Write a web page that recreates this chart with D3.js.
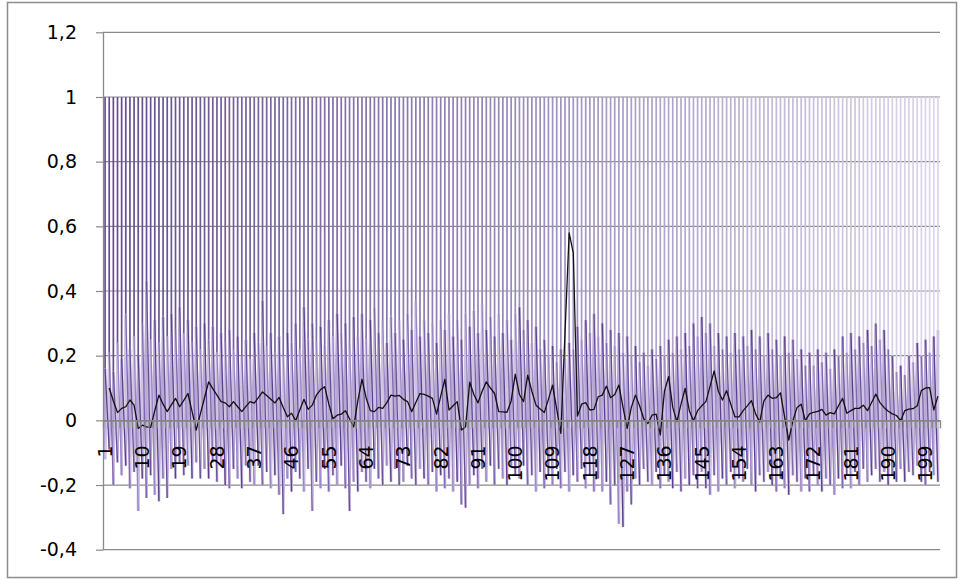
<!DOCTYPE html>
<html>
<head>
<meta charset="utf-8">
<script src="https://cdn.jsdelivr.net/npm/d3@7"></script>
<style>
  body { margin: 0; background: #fff; }
  svg { display: block; }
  text { font-family: "DejaVu Sans", sans-serif; fill: #000; }
</style>
</head>
<body>
<svg width="960" height="580"></svg>
<script>
// categories 1..202 (one correlation series per category)
const categories = d3.range(1, 203);
const xTickLabels = [1, 10, 19, 28, 37, 46, 55, 64, 73, 82, 91, 100, 109, 118, 127, 136, 145, 154, 163, 172, 181, 190, 199];
const yTicks = [-0.4, -0.2, 0, 0.2, 0.4, 0.6, 0.8, 1, 1.2];
const yTickLabels = ["-0,4", "-0,2", "0", "0,2", "0,4", "0,6", "0,8", "1", "1,2"];

// black series
const avgLine = [
  null, 0.10, 0.06, 0.024, 0.037, 0.042, 0.063, 0.047, -0.025, -0.015,
  -0.02, -0.022, 0.03, 0.078, 0.05, 0.027, 0.048, 0.068, 0.042, 0.062,
  0.083, 0.027, -0.03, 0.02, 0.07, 0.119, 0.098, 0.078, 0.058, 0.054,
  0.042, 0.058, 0.042, 0.027, 0.043, 0.058, 0.053, 0.07, 0.088, 0.077,
  0.065, 0.054, 0.071, 0.04, 0.011, 0.022, -0.001, 0.032, 0.065, 0.034,
  0.047, 0.078, 0.095, 0.104, 0.05, 0.005, 0.016, 0.019, 0.03, 0.005,
  -0.02, 0.06, 0.127, 0.07, 0.03, 0.027, 0.04, 0.037, 0.055, 0.078,
  0.075, 0.077, 0.065, 0.058, 0.027, 0.055, 0.083, 0.08, 0.075, 0.068,
  0.019, 0.075, 0.127, 0.032, 0.045, 0.058, -0.03, -0.02, 0.118, 0.08,
  0.054, 0.09, 0.119, 0.10, 0.083, 0.027, 0.026, 0.025, 0.06, 0.143,
  0.08, 0.058, 0.14, 0.09, 0.047, 0.035, 0.024, 0.065, 0.109, 0.035,
  -0.04, 0.27, 0.58, 0.517, 0.013, 0.05, 0.055, 0.032, 0.034, 0.073,
  0.078, 0.106, 0.07, 0.08, 0.109, 0.04, -0.025, 0.04, 0.078, 0.045,
  0.005, -0.01, 0.016, 0.019, -0.045, 0.09, 0.135, 0.04, -0.004, 0.05,
  0.099, 0.03, -0.001, 0.03, 0.045, 0.058, 0.105, 0.153, 0.09, 0.063,
  0.092, 0.05, 0.011, 0.011, 0.03, 0.045, 0.061, 0.02, -0.005, 0.06,
  0.078, 0.068, 0.07, 0.085, 0.01, -0.061, -0.001, 0.04, 0.05, -0.001,
  0.02, 0.025, 0.028, 0.034, 0.016, 0.024, 0.02, 0.045, 0.068, 0.022,
  0.03, 0.037, 0.037, 0.047, 0.03, 0.055, 0.081, 0.055, 0.04, 0.028,
  0.02, 0.015, -0.001, 0.03, 0.035, 0.036, 0.045, 0.092, 0.10, 0.101,
  0.032, 0.075
];

// upper reach of the purple series around each category (self value 1 excluded)
const noiseTop = [
  0.16, 0.21, 0.15, 0.24, 0.19, 0.33, 0.22, 0.26, 0.2, 0.3,
  0.43, 0.25, 0.31, 0.24, 0.32, 0.26, 0.33, 0.28, 0.35, 0.27,
  0.31, 0.24, 0.29, 0.22, 0.3, 0.25, 0.29, 0.21, 0.27, 0.24,
  0.28, 0.22, 0.26, 0.2, 0.25, 0.19, 0.27, 0.24, 0.37, 0.23,
  0.27, 0.21, 0.26, 0.2, 0.27, 0.24, 0.3, 0.22, 0.35, 0.25,
  0.3, 0.24, 0.29, 0.23, 0.31, 0.26, 0.33, 0.27, 0.3, 0.24,
  0.32, 0.26, 0.33, 0.25, 0.31, 0.35, 0.27, 0.31, 0.24, 0.32,
  0.27, 0.31, 0.25, 0.33, 0.28, 0.37, 0.26, 0.31, 0.27, 0.3,
  0.24, 0.31, 0.28, 0.33, 0.26, 0.31, 0.25, 0.33, 0.29, 0.34,
  0.27, 0.36, 0.28, 0.32, 0.26, 0.33, 0.27, 0.31, 0.25, 0.33,
  0.35, 0.28, 0.31, 0.24, 0.29, 0.22, 0.25, 0.2, 0.23, 0.18,
  0.22, 0.19, 0.24, 0.22, 0.29, 0.25, 0.31, 0.27, 0.33, 0.26,
  0.3, 0.24, 0.28, 0.23, 0.27, 0.21, 0.26, 0.2, 0.23, 0.18,
  0.21, 0.17, 0.22, 0.19, 0.23, 0.2, 0.25, 0.21, 0.26, 0.22,
  0.27, 0.23, 0.3, 0.26, 0.32, 0.27, 0.3, 0.23, 0.27, 0.22,
  0.26, 0.21, 0.27, 0.22, 0.26, 0.23, 0.28, 0.22, 0.26, 0.2,
  0.27, 0.22, 0.25, 0.2, 0.26, 0.21, 0.25, 0.19, 0.22, 0.17,
  0.21, 0.17, 0.22, 0.18, 0.21, 0.16, 0.22, 0.2, 0.26, 0.21,
  0.27, 0.22, 0.26, 0.24, 0.28, 0.23, 0.3, 0.25, 0.28, 0.22,
  0.2, 0.15, 0.17, 0.14, 0.2, 0.18, 0.24, 0.2, 0.25, 0.21,
  0.26, 0.28
];

// lower reach of the purple series around each category
const noiseBottom = [
  -0.12, -0.09, -0.2, -0.13, -0.17, -0.14, -0.21, -0.16, -0.28, -0.18,
  -0.24, -0.17, -0.23, -0.25, -0.18, -0.24, -0.15, -0.18, -0.13, -0.17,
  -0.14, -0.18, -0.13, -0.18, -0.15, -0.18, -0.13, -0.19, -0.14, -0.2,
  -0.21, -0.15, -0.18, -0.21, -0.14, -0.19, -0.2, -0.14, -0.2, -0.16,
  -0.21, -0.17, -0.23, -0.29, -0.18, -0.22, -0.16, -0.18, -0.22, -0.15,
  -0.28, -0.19, -0.21, -0.15, -0.22, -0.17, -0.2, -0.14, -0.21, -0.28,
  -0.19, -0.22, -0.16, -0.19, -0.21, -0.15, -0.18, -0.2, -0.14, -0.19,
  -0.15, -0.2, -0.19, -0.14, -0.18, -0.2, -0.15, -0.18, -0.2, -0.16,
  -0.22, -0.17, -0.21, -0.18, -0.22, -0.19, -0.26, -0.27, -0.2, -0.17,
  -0.21, -0.15, -0.19, -0.14, -0.2, -0.15, -0.18, -0.2, -0.14, -0.17,
  -0.18, -0.14, -0.2, -0.17, -0.22, -0.16, -0.21, -0.17, -0.2, -0.15,
  -0.21, -0.16, -0.22, -0.17, -0.19, -0.15, -0.21, -0.17, -0.22, -0.18,
  -0.22, -0.19, -0.26, -0.2, -0.32, -0.33, -0.22, -0.26, -0.18, -0.2,
  -0.15, -0.19, -0.2, -0.16, -0.21, -0.17, -0.19, -0.21, -0.16, -0.22,
  -0.18, -0.2, -0.17, -0.21, -0.16, -0.21, -0.23, -0.17, -0.22, -0.18,
  -0.2, -0.16, -0.21, -0.18, -0.19, -0.15, -0.2, -0.22, -0.17, -0.19,
  -0.16, -0.2, -0.22, -0.18, -0.21, -0.23, -0.17, -0.19, -0.22, -0.18,
  -0.22, -0.17, -0.2, -0.22, -0.18, -0.2, -0.23, -0.18, -0.21, -0.17,
  -0.21, -0.16, -0.2, -0.15, -0.19, -0.17, -0.15, -0.19, -0.16, -0.2,
  -0.17, -0.19, -0.15, -0.19, -0.16, -0.17, -0.14, -0.19, -0.2, -0.16,
  -0.17, -0.19
];
const selfValue = 1;

const svg = d3.select('svg');
const plot = {left: 103, right: 940, top: 32.3, bottom: 549.7};
const n = categories.length;

const x = d3.scaleLinear().domain([0.5, n + 0.5]).range([plot.left, plot.right]);
const y = d3.scaleLinear().domain([-0.4, 1.2]).range([plot.bottom, plot.top]);
const spikeColor = d3.scaleLinear().domain([1, n / 2, n]).range(["#634c8c", "#9a8bbb", "#ddd6ea"]);
const darkShades = ["#5c3f8e", "#8068b0", "#6a4f98", "#9a86c4"];
const lightShades = ["#b7a7d3", "#cec3e3"];

// outer chart border
svg.append('rect')
  .attr('x', 7.5).attr('y', 2.5).attr('width', 949).attr('height', 575)
  .attr('fill', 'none').attr('stroke', '#8c8c8c').attr('stroke-width', 1.5);

// gridlines
svg.append('g').selectAll('line')
  .data(yTicks.filter(d => d !== 0))
  .join('line')
  .attr('x1', plot.left).attr('x2', plot.right)
  .attr('y1', d => y(d)).attr('y2', d => y(d))
  .attr('stroke', '#8a8a8a').attr('stroke-width', 1.2);

const series = svg.append('g');

// body of the series: light columns at each category
series.append('g').selectAll('line')
  .data(categories)
  .join('line')
  .attr('x1', d => x(d)).attr('x2', d => x(d))
  .attr('y1', (d, i) => y(noiseBottom[i]))
  .attr('y2', (d, i) => y(noiseTop[i]))
  .attr('stroke', (d, i) => lightShades[i % 2])
  .attr('stroke-width', 2.8);

// crossing strokes between neighbouring categories
const gaps = categories.slice(0, n - 1);
series.append('g').selectAll('line')
  .data(gaps)
  .join('line')
  .attr('x1', d => x(d)).attr('x2', d => x(d + 1))
  .attr('y1', (d, i) => y(noiseBottom[i]))
  .attr('y2', (d, i) => y(noiseTop[i + 1]))
  .attr('stroke', (d, i) => lightShades[(i + 1) % 2])
  .attr('stroke-width', 1.4);
series.append('g').selectAll('line')
  .data(gaps)
  .join('line')
  .attr('x1', d => x(d)).attr('x2', d => x(d + 1))
  .attr('y1', (d, i) => y(noiseTop[i]))
  .attr('y2', (d, i) => y(noiseBottom[i + 1]))
  .attr('stroke', (d, i) => darkShades[i % 4])
  .attr('stroke-width', 1.3);

// each series reaches 1 at its own category
series.append('g').selectAll('line')
  .data(categories)
  .join('line')
  .attr('x1', d => x(d)).attr('x2', d => x(d))
  .attr('y1', (d, i) => y(noiseTop[i]))
  .attr('y2', y(selfValue))
  .attr('stroke', d => spikeColor(d))
  .attr('stroke-width', 1.7);

// black series
svg.append('path')
  .datum(avgLine)
  .attr('d', d3.line()
    .defined(d => d !== null)
    .x((d, i) => x(categories[i]))
    .y(d => y(d)))
  .attr('fill', 'none')
  .attr('stroke', '#111')
  .attr('stroke-width', 1.3)
  .attr('stroke-linejoin', 'round');

// value axis
const yAxis = d3.axisLeft(y)
  .tickValues(yTicks)
  .tickFormat((d, i) => yTickLabels[i])
  .tickSize(7).tickSizeOuter(0).tickPadding(19);
const yAxisG = svg.append('g')
  .attr('transform', `translate(${plot.left},0)`)
  .call(yAxis);
yAxisG.select('.domain').attr('stroke', '#8a8a8a').attr('stroke-width', 1.3);
yAxisG.selectAll('.tick line').attr('stroke', '#8a8a8a').attr('stroke-width', 1.2);
yAxisG.selectAll('.tick text').attr('font-size', 19).attr('font-family', '"DejaVu Sans", sans-serif').attr('fill', '#000');

// category axis, crossing at 0, ticks between categories
const boundaries = d3.range(0, n + 1).map(i => i + 0.5);
const xAxis = d3.axisBottom(x)
  .tickValues(boundaries)
  .tickFormat('')
  .tickSize(8).tickSizeOuter(0);
const xAxisG = svg.append('g')
  .attr('transform', `translate(0,${y(0)})`)
  .call(xAxis);
xAxisG.select('.domain').attr('stroke', '#858585').attr('stroke-width', 1.8);
xAxisG.selectAll('.tick line').attr('stroke', '#858585').attr('stroke-width', 1.3);

svg.append('g').selectAll('text')
  .data(xTickLabels)
  .join('text')
  .attr('transform', d => `translate(${x(d)},${y(0) + 25}) rotate(-90)`)
  .attr('text-anchor', 'end')
  .attr('dy', '0.36em')
  .attr('font-size', 19)
  .text(d => d);
</script>
</body>
</html>
